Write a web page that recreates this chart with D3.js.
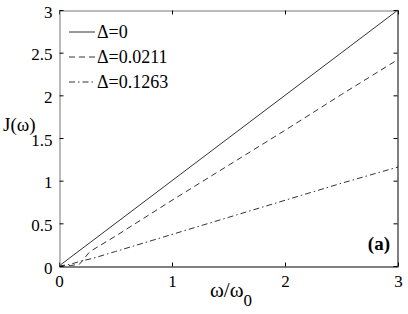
<!DOCTYPE html>
<html>
<head>
<meta charset="utf-8">
<script src="https://cdn.jsdelivr.net/npm/d3@7"></script>
<style>
  svg text, svg tspan { font-family: "Liberation Serif", "Times New Roman", serif !important; }
</style>
</head>
<body style="margin:0;background:#fff">
<div id="chart"></div>
<script>
// values
const omegaSolid = [0, 3];
const jSolid = [0, 3];
const omegaDash = [0, 0.1, 0.18, 0.22, 0.26, 0.3, 0.5, 1, 1.5, 2, 2.5, 3];
const jDash = [0, 0.005, 0.02, 0.08, 0.15, 0.19, 0.35, 0.77, 1.18, 1.59, 2.01, 2.42];
const omegaDashDot = [0, 0.1, 0.2, 0.3, 0.5, 1, 1.5, 2, 2.5, 3];
const jDashDot = [0, 0.02, 0.06, 0.09, 0.17, 0.37, 0.57, 0.77, 0.97, 1.16];
const legendLabels = ['Δ=0', 'Δ=0.0211', 'Δ=0.1263'];
const xTicks = [0, 1, 2, 3];
const yTicks = [0, 0.5, 1, 1.5, 2, 2.5, 3];

const width = 408, height = 314;
const margin = { left: 59, right: 10, top: 10, bottom: 48 };

const svg = d3.select('#chart').append('svg')
    .style('display', 'block')
    .attr('width', width)
    .attr('height', height);

const x = d3.scaleLinear().domain([0, 3]).range([margin.left, width - margin.right]);
const y = d3.scaleLinear().domain([0, 3]).range([height - margin.bottom, margin.top]);

const series = [
    { w: omegaSolid, j: jSolid, dash: null },
    { w: omegaDash, j: jDash, dash: '6,4' },
    { w: omegaDashDot, j: jDashDot, dash: '6,3,1.5,3' }
];

const line = d3.line()
    .x(d => x(d[0]))
    .y(d => y(d[1]));

series.forEach(s => {
    svg.append('path')
        .datum(s.w.map((w, i) => [w, s.j[i]]))
        .attr('fill', 'none')
        .attr('stroke', '#333')
        .attr('stroke-width', 1)
        .attr('stroke-dasharray', s.dash)
        .attr('d', line);
});

// Axes: ticks point inwards, box on
const tickLen = 4;
const fmt = d3.format('~g');
svg.append('g')
    .attr('transform', `translate(0,${y(0) + 0.5})`)
    .call(d3.axisBottom(x).tickValues(xTicks).tickSizeInner(-tickLen).tickSizeOuter(0).tickPadding(8).tickFormat(fmt))
    .call(g => g.select('.domain').attr('stroke', '#000'))
    .call(g => g.selectAll('text').attr('font-size', 17).attr('fill', '#000'));
svg.append('g')
    .attr('transform', `translate(0,${y(3) + 0.5})`)
    .call(d3.axisTop(x).tickValues(xTicks).tickSizeInner(-tickLen).tickSizeOuter(0).tickFormat(''))
    .call(g => g.select('.domain').attr('stroke', '#777'));
svg.append('g')
    .attr('transform', `translate(${x(0) + 0.5},0)`)
    .call(d3.axisLeft(y).tickValues(yTicks).tickSizeInner(-tickLen).tickSizeOuter(0).tickPadding(7).tickFormat(fmt))
    .call(g => g.select('.domain').attr('stroke', '#777'))
    .call(g => g.selectAll('text').attr('font-size', 17).attr('fill', '#000').attr('dy', '0.42em'));
svg.append('g')
    .attr('transform', `translate(${x(3) - 0.5},0)`)
    .call(d3.axisRight(y).tickValues(yTicks).tickSizeInner(-tickLen).tickSizeOuter(0).tickFormat(''))
    .call(g => g.select('.domain').attr('stroke', '#000'));

// Axis labels
const xl = svg.append('text')
    .attr('x', 210)
    .attr('y', 297)
    .attr('font-size', 21)
    .attr('fill', '#000');
xl.append('tspan').text('ω/ω');
xl.append('tspan').attr('font-size', 17).attr('dy', 9).text('0');

svg.append('text')
    .attr('x', 3)
    .attr('y', 131)
    .attr('font-size', 19)
    .attr('fill', '#000')
    .text('J(ω)');

// Legend
const legend = svg.append('g');
legendLabels.forEach((lab, i) => {
    const ly = 32 + i * 25;
    legend.append('line')
        .attr('x1', 69).attr('x2', 95)
        .attr('y1', ly).attr('y2', ly)
        .attr('stroke', '#333')
        .attr('stroke-dasharray', series[i].dash);
    legend.append('text')
        .attr('x', 97)
        .attr('y', ly + 6)
        .attr('font-size', 18)
        .attr('fill', '#000')
        .text(lab);
});

// Panel tag
svg.append('text')
    .attr('x', 390)
    .attr('y', 250)
    .attr('text-anchor', 'end')
    .attr('font-size', 19)
    .attr('font-weight', 'bold')
    .attr('fill', '#000')
    .text('(a)');

// serif everywhere (axis groups default to sans-serif)
svg.node().querySelectorAll('g').forEach(g => g.removeAttribute('font-family'));
svg.node().querySelectorAll('text').forEach(t => t.setAttribute('font-family', 'Liberation Serif'));
</script>
</body>
</html>
